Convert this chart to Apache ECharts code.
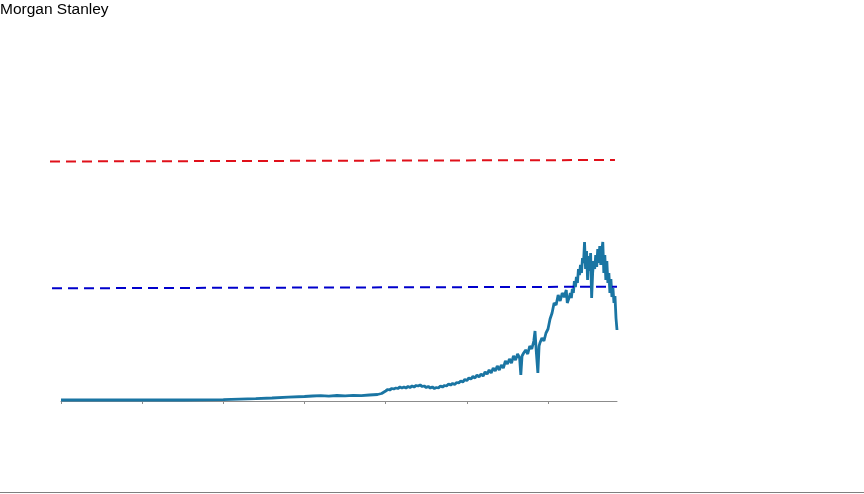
<!DOCTYPE html>
<html>
<head>
<meta charset="utf-8">
<script src="https://cdn.jsdelivr.net/npm/echarts@6/dist/echarts.min.js"></script>
<style>html,body{margin:0;padding:0;background:#fff}#c{width:864px;height:494px}</style>
</head>
<body>
<div id="c"></div>
<script>
// x positions (decimal years) of the main series
const years = [
  1950,1955,1960,1965,1970,1972,1974,1976,1978,1980,1981,1982,1983,1984,1985,1986,1987,1988,1989,1989.5,
  1990.0,1990.25,1990.5,1990.75,1991.0,1991.25,1991.5,1991.75,1992.0,1992.25,1992.5,1992.75,
  1993.0,1993.25,1993.5,1993.75,1994.0,1994.25,1994.5,1994.75,1995.0,1995.25,1995.5,1995.75,
  1996.0,1996.25,1996.5,1996.75,1997.0,1997.25,1997.5,1997.75,1998.0,1998.25,1998.5,1998.75,
  1999.0,1999.25,1999.5,1999.75,2000.0,2000.25,2000.5,2000.75,2001.0,2001.25,2001.5,2001.75,
  2002.0,2002.25,2002.5,2002.75,2003.0,2003.25,2003.5,2003.75,2004.0,2004.25,2004.5,2004.75,
  2005.0,2005.25,2005.5,2005.75,2006.0,2006.25,2006.5,2006.65,2006.8,2007.0,2007.25,2007.5,2007.75,
  2008.0,2008.25,2008.4,2008.55,2008.75,2008.9,2009.0,2009.25,2009.5,2009.75,2010.0,2010.25,2010.5,2010.75,
  2011.0,2011.25,2011.5,2011.75,2012.0,2012.25,2012.375,
  2012.5,2012.625,2012.75,2012.875,2013.0,2013.125,2013.25,2013.375,2013.5,2013.625,2013.75,2013.875,
  2014.0,2014.125,2014.25,2014.375,2014.5,2014.625,2014.75,2014.875,2015.0,2015.125,2015.25,2015.375,
  2015.5,2015.625,2015.75,2015.875,2016.0,2016.125,2016.25,2016.375,2016.5,2016.625,2016.75,2016.875,
  2017.0,2017.125,2017.25,2017.375,2017.5,2017.625,2017.75,2017.875,2018.0,2018.125,2018.25,2018.375,2018.5
];
// values of the main series
const values = [
  1,1,1,1,1.3,1.8,2.3,3,3.8,4.5,5,5.3,4.8,5.5,5.2,5.6,5.3,6,6.5,7.5,
  10,11.5,11,12.5,12,13,12.5,14,
  13,14,13,14.5,13.5,15,14,15.5,15,16,14.5,15,13.5,14.5,13,14,
  12.5,13.5,13,15,14,15.5,15,17,16,17.5,16.5,18.5,
  18,20,19,21.5,20.5,23,22,24.5,23,26,24,27,
  25,29,27,31,28,33,30,35,31,36,33,40,
  37,42,38,45,41,47,43,26,45,48,51,47,55,
  52,60,70,50,28,55,58,63,60,68,72,82,88,98,
  96,106,100,108,104,111,98,
  96,104,108,103,112,108,120,114,124,118,132,126,
  136,128,143,138,159,132,150,121,145,130,148,103,
  128,140,132,146,134,152,138,155,136,150,159,128,
  146,121,140,118,128,108,122,104,113,98,105,83,71
];
// reference levels (start/end x and values)
const redLevelX = [1948.65, 2018.25];
const redLevel = [239.5, 241];
const blueLevelX = [1948.9, 2018.5];
const blueLevel = [112.7, 114.3];
const xTicks = [1950, 1960, 1970, 1980, 1990, 2000, 2010];
const xMin = 1950, xStep = 10, xMax = 2018.5;
const yMax = 300;

const chart = echarts.init(document.getElementById('c'), null, {renderer: 'canvas'});
const pair = (xs, ys) => xs.map((x, i) => [x, ys[i]]);
chart.setOption({
  animation: false,
  backgroundColor: '#ffffff',
  title: {
    text: 'Morgan Stanley', left: 0, top: 2, padding: 0,
    textStyle: {fontFamily: 'Liberation Sans, Arial, sans-serif', fontSize: 15.5, fontWeight: 'normal', color: '#000'}
  },
  grid: [
    {left: 61, right: 247, top: 101, bottom: 93},
    {left: 50, right: 247, top: 101, bottom: 93}
  ],
  xAxis: [
    {type: 'value', gridIndex: 0, min: xMin, max: xMax, interval: xStep,
     axisLine: {show: true, lineStyle: {color: '#8c8c8c', width: 1}},
     axisTick: {show: true, length: 3, customValues: xTicks, lineStyle: {color: '#8c8c8c'}},
     axisLabel: {show: false}, splitLine: {show: false}},
    {type: 'value', gridIndex: 1, min: 1948.65, max: xMax, show: false, splitLine: {show: false}}
  ],
  yAxis: [
    {type: 'value', gridIndex: 0, min: 0, max: yMax, show: false, splitLine: {show: false}},
    {type: 'value', gridIndex: 1, min: 0, max: yMax, show: false, splitLine: {show: false}}
  ],
  graphic: [
    {type: 'line', shape: {x1: 0, y1: 492.5, x2: 864, y2: 492.5}, style: {stroke: '#7f7f7f', lineWidth: 1}}
  ],
  series: [
    {type: 'line', xAxisIndex: 1, yAxisIndex: 1, data: pair(redLevelX, redLevel), symbol: 'none',
     lineStyle: {color: '#e0101a', width: 2, type: [10, 6]}, z: 3},
    {type: 'line', xAxisIndex: 1, yAxisIndex: 1, data: pair(blueLevelX, blueLevel), symbol: 'none',
     lineStyle: {color: '#0000cc', width: 2, type: [10, 6]}, z: 3},
    {type: 'line', xAxisIndex: 0, yAxisIndex: 0, data: pair(years, values), symbol: 'none',
     lineStyle: {color: '#1a75a3', width: 2.8}, z: 2}
  ]
});
</script>
</body>
</html>
